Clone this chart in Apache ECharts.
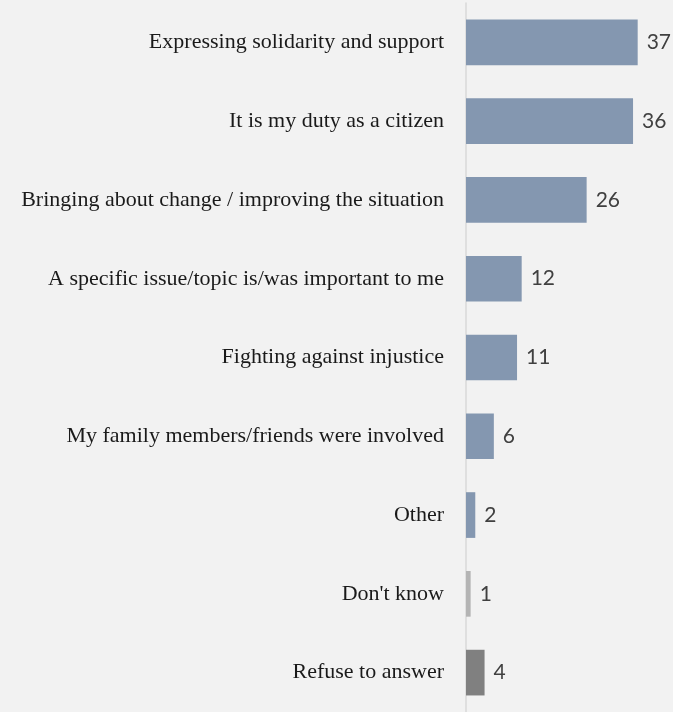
<!DOCTYPE html>
<html><head><meta charset="utf-8">
<script src="https://cdn.jsdelivr.net/npm/echarts@6/dist/echarts.min.js"></script>
<style>html,body{margin:0;padding:0;background:#f2f2f2;}#c{width:673px;height:712px;}</style>
</head><body><div id="c"></div>
<script>
const categories = [
  "Expressing solidarity and support",
  "It is my duty as a citizen",
  "Bringing about change / improving the situation",
  "A specific issue/topic is/was important to me",
  "Fighting against injustice",
  "My family members/friends were involved",
  "Other",
  "Don't know",
  "Refuse to answer"
];
const values = [37, 36, 26, 12, 11, 6, 2, 1, 4];
const barColors = ["#8497b0","#8497b0","#8497b0","#8497b0","#8497b0","#8497b0","#8497b0","#b4b4b4","#808080"];

const chart = echarts.init(document.getElementById('c'), null, {renderer:'canvas'});
chart.setOption({
  backgroundColor: '#f2f2f2',
  animation: false,
  grid: {left: 466, top: 3, width: 185.6, height: 714, containLabel: false},
  xAxis: {type:'value', min:0, max:40, show:false},
  yAxis: {
    type:'category', data: categories, inverse:true,
    axisLine:{show:true, lineStyle:{color:'#d9d9d9', width:1.5}},
    axisTick:{show:false},
    axisLabel:{margin:22, color:'#1a1a1a', fontFamily:'Liberation Serif', fontSize:22, padding:[3,0,0,0]}
  },
  series:[{
    type:'bar',
    data: values.map((v,i)=>({value:v, itemStyle:{color:barColors[i]}})),
    barCategoryGap:'42%',
    label:{show:true, position:'right', distance:9, color:'#404040', fontFamily:'Lato', fontSize:21}
  }]
});
</script></body></html>
